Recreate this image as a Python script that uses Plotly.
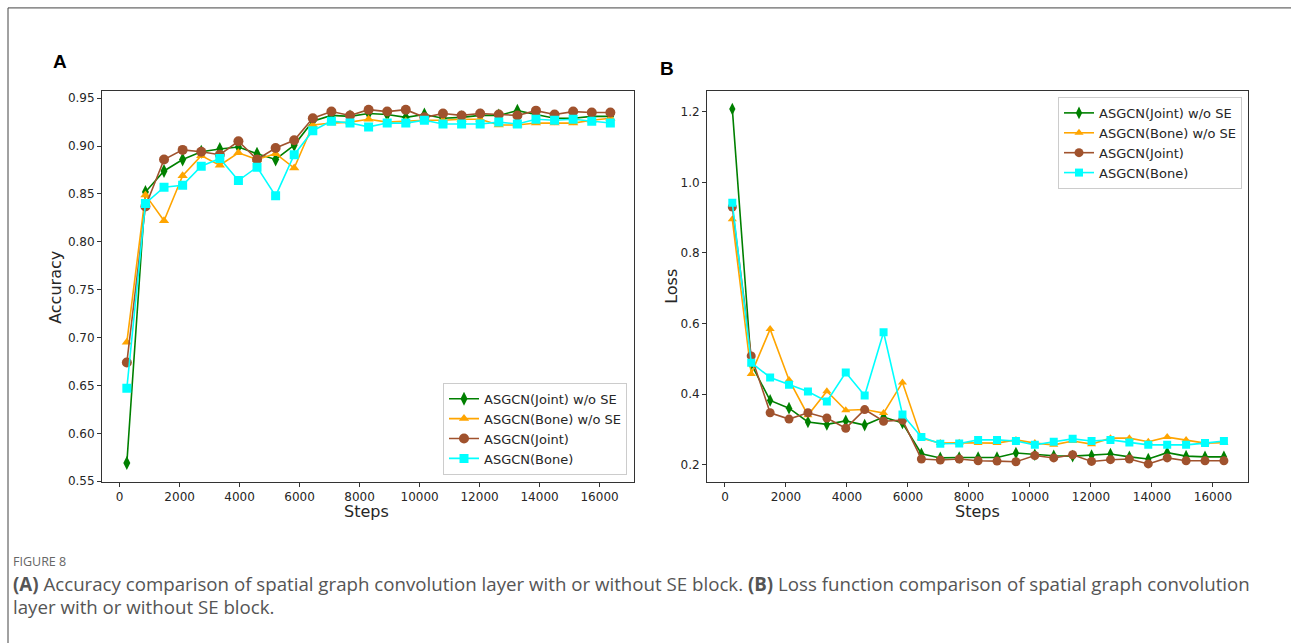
import plotly.graph_objects as go

W, H = 1291, 643

steps = [240, 860, 1480, 2100, 2720, 3340, 3960, 4580, 5200, 5820, 6440, 7060, 7680, 8300,
         8920, 9540, 10160, 10780, 11400, 12020, 12640, 13260, 13880, 14500, 15120, 15740, 16360]

series_names = ["ASGCN(Joint) w/o SE", "ASGCN(Bone) w/o SE", "ASGCN(Joint)", "ASGCN(Bone)"]

acc_joint_nose = [0.569, 0.852, 0.874, 0.886, 0.894, 0.897, 0.899, 0.892, 0.886, 0.901, 0.926, 0.932, 0.931,
                  0.934, 0.933, 0.930, 0.933, 0.929, 0.930, 0.932, 0.932, 0.937, 0.933, 0.929, 0.929, 0.931, 0.931]
acc_bone_nose = [0.695, 0.849, 0.822, 0.869, 0.890, 0.880, 0.893, 0.886, 0.892, 0.877, 0.922, 0.924, 0.925,
                 0.928, 0.925, 0.926, 0.927, 0.927, 0.928, 0.928, 0.922, 0.922, 0.924, 0.924, 0.924, 0.927, 0.929]
acc_joint = [0.674, 0.837, 0.886, 0.896, 0.894, 0.891, 0.905, 0.886, 0.898, 0.906, 0.929, 0.936, 0.932,
             0.938, 0.936, 0.938, 0.930, 0.934, 0.932, 0.934, 0.933, 0.932, 0.937, 0.933, 0.936, 0.935, 0.935]
acc_bone = [0.647, 0.840, 0.857, 0.859, 0.879, 0.887, 0.864, 0.878, 0.848, 0.891, 0.916, 0.926, 0.924,
            0.920, 0.924, 0.924, 0.927, 0.923, 0.923, 0.923, 0.925, 0.923, 0.928, 0.927, 0.928, 0.926, 0.924]

loss_joint_nose = [1.208, 0.485, 0.382, 0.360, 0.321, 0.314, 0.324, 0.312, 0.335, 0.318, 0.231, 0.219, 0.220,
                   0.220, 0.220, 0.233, 0.228, 0.225, 0.224, 0.226, 0.230, 0.222, 0.216, 0.234, 0.224, 0.222, 0.222]
loss_bone_nose = [0.895, 0.457, 0.584, 0.440, 0.340, 0.408, 0.354, 0.356, 0.346, 0.433, 0.275, 0.261, 0.262,
                  0.261, 0.261, 0.270, 0.261, 0.256, 0.267, 0.258, 0.275, 0.275, 0.265, 0.278, 0.270, 0.261, 0.262]
loss_joint = [0.930, 0.508, 0.347, 0.329, 0.347, 0.332, 0.303, 0.356, 0.323, 0.326, 0.216, 0.213, 0.216,
              0.211, 0.210, 0.208, 0.226, 0.219, 0.228, 0.209, 0.214, 0.216, 0.202, 0.219, 0.211, 0.211, 0.211]
loss_bone = [0.942, 0.489, 0.447, 0.426, 0.407, 0.379, 0.461, 0.396, 0.575, 0.342, 0.278, 0.259, 0.260,
             0.270, 0.270, 0.267, 0.256, 0.265, 0.273, 0.267, 0.270, 0.263, 0.256, 0.256, 0.256, 0.261, 0.267]

acc_ticks = [0.55, 0.60, 0.65, 0.70, 0.75, 0.80, 0.85, 0.90, 0.95]
loss_ticks = [0.2, 0.4, 0.6, 0.8, 1.0, 1.2]
step_ticks = [0, 2000, 4000, 6000, 8000, 10000, 12000, 14000, 16000]

colors = ["#008000", "#FFA500", "#A0522D", "#00FFFF"]
symbols = ["diamond-tall", "triangle-up", "circle", "square"]
msizes = [10, 9, 10, 9]

fig = go.Figure()

acc_data = [acc_joint_nose, acc_bone_nose, acc_joint, acc_bone]
loss_data = [loss_joint_nose, loss_bone_nose, loss_joint, loss_bone]

for i in range(4):
    fig.add_trace(go.Scatter(x=steps, y=acc_data[i], mode="lines+markers", name=series_names[i],
                             line=dict(color=colors[i], width=1.6),
                             marker=dict(symbol=symbols[i], size=msizes[i], color=colors[i]),
                             xaxis="x", yaxis="y", legend="legend"))
for i in range(4):
    fig.add_trace(go.Scatter(x=steps, y=loss_data[i], mode="lines+markers", name=series_names[i],
                             line=dict(color=colors[i], width=1.6),
                             marker=dict(symbol=symbols[i], size=msizes[i] - 1, color=colors[i]),
                             xaxis="x2", yaxis="y2", legend="legend2"))

def px(x):
    return x / W

def py(y):
    return 1 - y / H

tickfont = dict(family="DejaVu Sans", size=12, color="#262626")
axis_common = dict(showline=True, linecolor="#333333", linewidth=1, mirror=True, ticks="outside",
                   ticklen=4, tickcolor="#333333", showgrid=False, zeroline=False, tickfont=tickfont)

legend_style = dict(bgcolor="rgba(255,255,255,0.85)", bordercolor="#cccccc", borderwidth=1,
                    font=dict(family="DejaVu Sans", size=13, color="#262626"), tracegroupgap=0)

fig.update_layout(
    width=W, height=H, margin=dict(l=0, r=0, t=0, b=0),
    paper_bgcolor="white", plot_bgcolor="white", showlegend=True,
    xaxis=dict(domain=[px(102), px(634)], range=[-588, 17148], tickvals=step_ticks,
               ticktext=[str(t) for t in step_ticks], anchor="y", **axis_common),
    yaxis=dict(domain=[py(487), py(92)], range=[0.5495, 0.9575], tickvals=acc_ticks,
               ticktext=[f"{t:.2f}" for t in acc_ticks], anchor="x", **axis_common),
    xaxis2=dict(domain=[px(707), px(1248)], range=[-590, 17150], tickvals=step_ticks,
                ticktext=[str(t) for t in step_ticks], anchor="y2", **axis_common),
    yaxis2=dict(domain=[py(487), py(92)], range=[0.1516, 1.2588], tickvals=loss_ticks,
                ticktext=[f"{t:.1f}" for t in loss_ticks], anchor="x2", **axis_common),
    legend=dict(x=px(627), y=py(480), xanchor="right", yanchor="bottom", **legend_style),
    legend2=dict(x=px(1242), y=py(98), xanchor="right", yanchor="top", **legend_style),
)

annots = [
    dict(text="<b>A</b>", x=px(60), y=py(62), font=dict(family="Liberation Sans", size=19, color="black")),
    dict(text="<b>B</b>", x=px(667), y=py(69), font=dict(family="Liberation Sans", size=19, color="black")),
    dict(text="Accuracy", x=px(56), y=py(290), textangle=-90, font=dict(family="DejaVu Sans", size=16, color="#262626")),
    dict(text="Loss", x=px(672), y=py(290), textangle=-90, font=dict(family="DejaVu Sans", size=16, color="#262626")),
    dict(text="Steps", x=px(367), y=py(517), font=dict(family="DejaVu Sans", size=16, color="#262626")),
    dict(text="Steps", x=px(977), y=py(517), font=dict(family="DejaVu Sans", size=16, color="#262626")),
]
for a in annots:
    fig.add_annotation(xref="paper", yref="paper", showarrow=False, xanchor="center", yanchor="middle", **a)

cap_font = dict(family="Open Sans", size=18.7, color="#555555")
fig.add_annotation(xref="paper", yref="paper", showarrow=False, x=px(11), y=py(568), xanchor="left",
                   yanchor="middle", text="FIGURE 8", font=dict(family="Open Sans", size=12.5, color="#666666"))
fig.add_annotation(xref="paper", yref="paper", showarrow=False, x=px(11), y=py(590), xanchor="left",
                   yanchor="middle",
                   text="<b>(A)</b> Accuracy comparison of spatial graph convolution layer with or without SE block. "
                        "<b>(B)</b> Loss function comparison of spatial graph convolution",
                   font=cap_font)
fig.add_annotation(xref="paper", yref="paper", showarrow=False, x=px(11), y=py(613), xanchor="left",
                   yanchor="middle", text="layer with or without SE block.", font=cap_font)

fig.add_shape(type="rect", xref="paper", yref="paper", x0=px(8), x1=1.2, y0=-0.2, y1=py(8),
              line=dict(color="#444444", width=1), fillcolor="rgba(0,0,0,0)", layer="below")

fig.write_html("out.html")
